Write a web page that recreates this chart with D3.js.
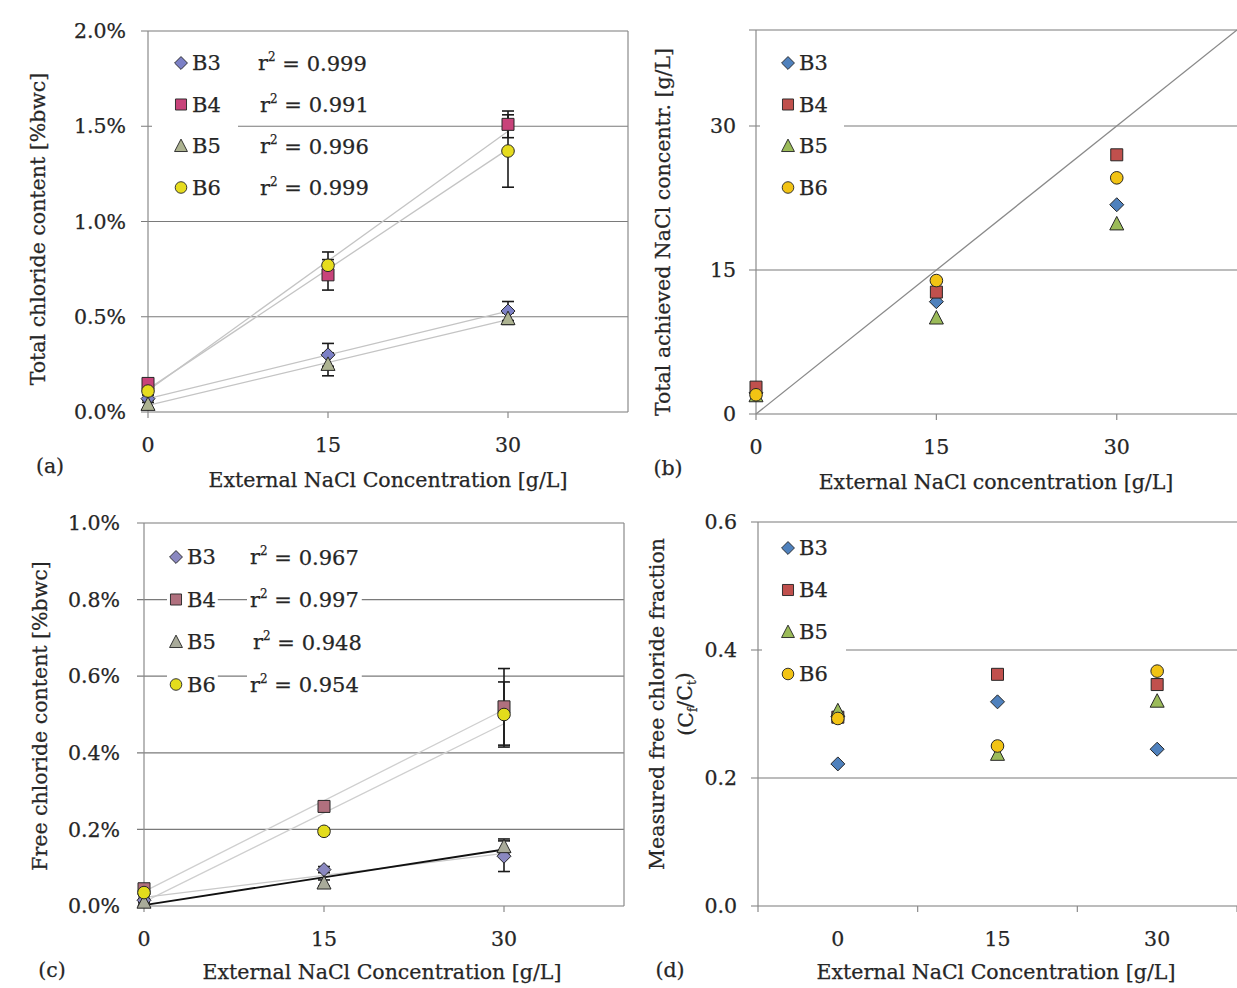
<!DOCTYPE html>
<html><head><meta charset="utf-8">
<script src="https://cdn.jsdelivr.net/npm/d3@7"></script>
<style>
html,body{margin:0;padding:0;background:#fff;}
svg text{font-family:"DejaVu Serif","Liberation Serif",serif;fill:#262626;stroke:#262626;stroke-width:0.25px;}
</style></head>
<body>
<svg id="chart" width="1237" height="988"></svg>
<script>
// ---------- data ----------
const seriesNames = ["B3", "B4", "B5", "B6"];
const seriesShapes = ["diamond", "square", "triangle", "circle"];
const concentrations = [0, 15, 30];
const concLabels = ["0", "15", "30"];

// (a) total chloride content [%bwc]
const totalB3 = [0.07, 0.30, 0.53];
const totalB4 = [0.15, 0.72, 1.51];
const totalB5 = [0.04, 0.25, 0.49];
const totalB6 = [0.11, 0.77, 1.37];
const totalErrB3 = [0.02, 0.06, 0.05];
const totalErrB4 = [0.02, 0.08, 0.07];
const totalErrB5 = [0.02, 0.06, 0.03];
const totalErrB6 = [0.02, 0.07, 0.19];
const totalR2 = ["0.999", "0.991", "0.996", "0.999"];
const totalTicks = [0, 0.5, 1.0, 1.5, 2.0];

// (b) total achieved NaCl concentration [g/L]
const achievedB3 = [2.2, 11.7, 21.8];
const achievedB4 = [2.8, 12.7, 27.0];
const achievedB5 = [1.9, 10.0, 19.8];
const achievedB6 = [2.0, 13.9, 24.6];
const achievedTicks = [0, 15, 30];
const identityLine = [0, 40];

// (c) free chloride content [%bwc]
const freeB3 = [0.015, 0.095, 0.13];
const freeB4 = [0.045, 0.26, 0.52];
const freeB5 = [0.01, 0.06, 0.155];
const freeB6 = [0.035, 0.195, 0.50];
const freeErrB3 = [0.005, 0.008, 0.04];
const freeErrB4 = [0.008, 0.008, 0.10];
const freeErrB5 = [0.005, 0.008, 0.02];
const freeErrB6 = [0.008, 0.008, 0.085];
const freeR2 = ["0.967", "0.997", "0.948", "0.954"];
const freeTicks = [0, 0.2, 0.4, 0.6, 0.8, 1.0];

// (d) measured free chloride fraction Cf/Ct
const fracB3 = [0.222, 0.319, 0.245];
const fracB4 = [0.295, 0.362, 0.346];
const fracB5 = [0.305, 0.237, 0.320];
const fracB6 = [0.293, 0.250, 0.367];
const fracTicks = [0, 0.2, 0.4, 0.6];

// ---------- styles ----------
const colorsA = ["#7c80c6", "#c8437a", "#adb391", "#e6dc1e"];
const colorsB = ["#4f81bd", "#c0504d", "#9bbb59", "#f2c314"];
const colorsC = ["#8a88c0", "#b0707e", "#a9ab9a", "#e3dc1c"];
const colorsD = ["#4f81bd", "#c0504d", "#9bbb59", "#f2c314"];

const svg = d3.select("#chart");
const FS = 20.5;

function markerPath(shape) {
  if (shape === "diamond") return "M0,-7L7,0L0,7L-7,0Z";
  if (shape === "square") return "M-6,-6H6V6H-6Z";
  if (shape === "triangle") return "M0,-7.5L7,6L-7,6Z";
  return d3.symbol(d3.symbolCircle, Math.PI * 6.3 * 6.3)();
}

function linFit(xs, ys) {
  const mx = d3.mean(xs), my = d3.mean(ys);
  const sxy = d3.sum(xs, (x, i) => (x - mx) * (ys[i] - my));
  const sxx = d3.sum(xs, x => (x - mx) * (x - mx));
  const b = sxy / sxx;
  return [my - b * mx, b];
}

function frame(g, x, y, yTicks, fmt, opts) {
  const [x0, x1] = x.range();
  const [yb, yt] = y.range();
  g.selectAll(".grid").data(yTicks).join("line")
    .attr("x1", x0 - 7).attr("x2", x1)
    .attr("y1", d => y(d)).attr("y2", d => y(d))
    .attr("stroke", "#7a7a7a").attr("stroke-width", 1.2);
  g.append("line").attr("x1", x0).attr("x2", x0).attr("y1", yt).attr("y2", yb)
    .attr("stroke", "#8a8a8a").attr("stroke-width", 1.2);
  if (opts.rightBorder)
    g.append("line").attr("x1", x1).attr("x2", x1).attr("y1", yt).attr("y2", yb)
      .attr("stroke", "#8a8a8a").attr("stroke-width", 1.2);
  g.selectAll(".ylab").data(yTicks).join("text")
    .attr("x", x0 - opts.yLabelGap).attr("y", d => y(d)).attr("dy", "0.35em")
    .attr("text-anchor", "end").attr("font-size", FS).text(fmt);
}

function xAxisLinear(g, x, y, ticks) {
  const yb = y.range()[0];
  g.selectAll(".xt").data(ticks).join("line")
    .attr("x1", d => x(d)).attr("x2", d => x(d)).attr("y1", yb).attr("y2", yb + 6)
    .attr("stroke", "#8a8a8a").attr("stroke-width", 1.2);
  g.selectAll(".xl").data(ticks).join("text")
    .attr("x", d => x(d)).attr("y", yb + 40).attr("text-anchor", "middle")
    .attr("font-size", FS).text(d => d);
}

function drawPoints(g, x, y, xs, ys, shape, color) {
  g.append("g").selectAll("path").data(ys).join("path")
    .attr("d", markerPath(shape))
    .attr("transform", (d, i) => `translate(${x(xs[i])},${y(d)})`)
    .attr("fill", color).attr("stroke", "#262626").attr("stroke-width", 1);
}

function drawErr(g, x, y, xs, ys, es) {
  const eg = g.append("g").attr("stroke", "#1a1a1a").attr("stroke-width", 1.6);
  ys.forEach((v, i) => {
    const cx = x(xs[i]);
    eg.append("line").attr("x1", cx).attr("x2", cx).attr("y1", y(v - es[i])).attr("y2", y(v + es[i]));
    [v - es[i], v + es[i]].forEach(e =>
      eg.append("line").attr("x1", cx - 6).attr("x2", cx + 6).attr("y1", y(e)).attr("y2", y(e)));
  });
}

function drawFit(g, x, y, xs, ys, color, width) {
  const [a, b] = linFit(xs, ys);
  const x0 = d3.min(xs), x1 = d3.max(xs);
  g.append("line").attr("x1", x(x0)).attr("y1", y(a + b * x0))
    .attr("x2", x(x1)).attr("y2", y(a + b * x1))
    .attr("stroke", color).attr("stroke-width", width);
}

function legend(g, x0, y0, dy, colors, r2, r2x, textX, perItemBg) {
  seriesNames.forEach((n, i) => {
    const yy = y0 + i * dy;
    const row = g.append("g");
    const t = row.append("text").attr("x", textX).attr("y", yy).attr("dy", "0.35em")
      .attr("font-size", FS + 0.5).text(n);
    let rt = null;
    if (r2) {
      rt = row.append("text").attr("x", r2x[i]).attr("y", yy).attr("dy", "0.35em")
        .attr("font-size", FS + 0.5);
      rt.append("tspan").text("r");
      rt.append("tspan").attr("font-size", 12).attr("dy", "-0.75em").text("2");
      rt.append("tspan").attr("dy", "0.45em").text(" = " + r2[i]);
    }
    if (perItemBg) {
      const bb = t.node().getBBox();
      row.insert("rect", "text").attr("x", x0 - 9).attr("y", bb.y + 2)
        .attr("width", bb.x + bb.width - x0 + 11).attr("height", bb.height - 2).attr("fill", "#fff");
      if (rt) {
        const rb = rt.node().getBBox();
        row.insert("rect", "text").attr("x", rb.x - 3).attr("y", rb.y + 2)
          .attr("width", rb.width + 6).attr("height", rb.height - 2).attr("fill", "#fff");
      }
    }
    row.append("path").attr("d", markerPath(seriesShapes[i]))
      .attr("transform", `translate(${x0},${yy}) scale(0.92)`)
      .attr("fill", colors[i]).attr("stroke", "#262626").attr("stroke-width", 1);
  });
}

const pctFmt = d => d.toFixed(1) + "%";

// ================= (a) =================
{
  const g = svg.append("g");
  const x = d3.scaleLinear().domain([0, 40]).range([148, 628]);
  const y = d3.scaleLinear().domain([0, 2.0]).range([412, 31]);
  frame(g, x, y, totalTicks, pctFmt, { rightBorder: true, yLabelGap: 22 });
  xAxisLinear(g, x, y, [0, 15, 30]);
  const vals = [totalB3, totalB4, totalB5, totalB6];
  const errs = [totalErrB3, totalErrB4, totalErrB5, totalErrB6];
  vals.forEach(v => drawFit(g, x, y, concentrations, v, "#c4c4c4", 1.3));
  vals.forEach((v, i) => drawErr(g, x, y, concentrations, v, errs[i]));
  vals.forEach((v, i) => drawPoints(g, x, y, concentrations, v, seriesShapes[i], colorsA[i]));
  g.append("rect").attr("x", 152).attr("y", 46).attr("width", 86).attr("height", 160).attr("fill", "#fff");
  legend(g, 181, 63, 41.5, colorsA, totalR2, [258, 260, 260, 260], 192, false);
  g.append("text").attr("x", 388).attr("y", 487).attr("text-anchor", "middle").attr("font-size", FS)
    .text("External NaCl Concentration [g/L]");
  g.append("text").attr("transform", "translate(45,229) rotate(-90)").attr("text-anchor", "middle")
    .attr("font-size", FS).text("Total chloride content [%bwc]");
  g.append("text").attr("x", 50).attr("y", 473).attr("text-anchor", "middle").attr("font-size", FS).text("(a)");
}

// ================= (b) =================
{
  const g = svg.append("g");
  const x = d3.scaleLinear().domain([0, 40]).range([756, 1237]);
  const y = d3.scaleLinear().domain([0, 40]).range([414, 30]);
  frame(g, x, y, [0, 15, 30, 40], d => d === 40 ? "" : d, { rightBorder: false, yLabelGap: 20 });
  xAxisLinear(g, x, y, [0, 15, 30]);
  g.append("line").attr("x1", x(identityLine[0])).attr("y1", y(identityLine[0]))
    .attr("x2", x(identityLine[1])).attr("y2", y(identityLine[1]))
    .attr("stroke", "#8a8a8a").attr("stroke-width", 1.3);
  const vals = [achievedB3, achievedB4, achievedB5, achievedB6];
  vals.forEach((v, i) => drawPoints(g, x, y, concentrations, v, seriesShapes[i], colorsB[i]));
  g.append("rect").attr("x", 760).attr("y", 46).attr("width", 84).attr("height", 160).attr("fill", "#fff");
  legend(g, 788, 63, 41.5, colorsB, null, null, 799, false);
  g.append("text").attr("x", 996).attr("y", 489).attr("text-anchor", "middle").attr("font-size", FS)
    .text("External NaCl concentration [g/L]");
  g.append("text").attr("transform", "translate(670,232) rotate(-90)").attr("text-anchor", "middle")
    .attr("font-size", FS).text("Total achieved NaCl concentr. [g/L]");
  g.append("text").attr("x", 668).attr("y", 475).attr("text-anchor", "middle").attr("font-size", FS).text("(b)");
}

// ================= (c) =================
{
  const g = svg.append("g");
  const x = d3.scaleLinear().domain([0, 40]).range([144, 624]);
  const y = d3.scaleLinear().domain([0, 1.0]).range([906, 523]);
  frame(g, x, y, freeTicks, pctFmt, { rightBorder: true, yLabelGap: 24 });
  xAxisLinear(g, x, y, [0, 15, 30]);
  const vals = [freeB3, freeB4, freeB5, freeB6];
  const errs = [freeErrB3, freeErrB4, freeErrB5, freeErrB6];
  drawFit(g, x, y, concentrations, freeB4, "#cfcfcf", 1.3);
  drawFit(g, x, y, concentrations, freeB6, "#cfcfcf", 1.3);
  drawFit(g, x, y, concentrations, freeB3, "#c8c8c8", 1.3);
  drawFit(g, x, y, concentrations, freeB5, "#111111", 1.8);
  vals.forEach((v, i) => drawErr(g, x, y, concentrations, v, errs[i]));
  vals.forEach((v, i) => drawPoints(g, x, y, concentrations, v, seriesShapes[i], colorsC[i]));
  legend(g, 176, 557, 42.5, colorsC, freeR2, [250, 250, 253, 250], 187, true);
  g.append("text").attr("x", 382).attr("y", 979).attr("text-anchor", "middle").attr("font-size", FS)
    .text("External NaCl Concentration [g/L]");
  g.append("text").attr("transform", "translate(47,716) rotate(-90)").attr("text-anchor", "middle")
    .attr("font-size", FS).text("Free chloride content [%bwc]");
  g.append("text").attr("x", 52).attr("y", 977).attr("text-anchor", "middle").attr("font-size", FS).text("(c)");
}

// ================= (d) =================
{
  const g = svg.append("g");
  const x = d3.scaleBand().domain(concLabels).range([758, 1237]);
  const xc = d => x(d) + x.bandwidth() / 2;
  const y = d3.scaleLinear().domain([0, 0.6]).range([906, 522]);
  frame(g, d3.scaleLinear().range([758, 1237]), y, fracTicks, d => d.toFixed(1), { rightBorder: false, yLabelGap: 21 });
  const bounds = concLabels.map(c => x(c)).concat([x.range()[1]]);
  g.selectAll(".xt").data(bounds).join("line")
    .attr("x1", d => d).attr("x2", d => d).attr("y1", 906).attr("y2", 912)
    .attr("stroke", "#8a8a8a").attr("stroke-width", 1.2);
  g.selectAll(".xl").data(concLabels).join("text")
    .attr("x", d => xc(d)).attr("y", 946).attr("text-anchor", "middle").attr("font-size", FS).text(d => d);
  const vals = [fracB3, fracB4, fracB5, fracB6];
  vals.forEach((v, i) => {
    g.append("g").selectAll("path").data(v).join("path")
      .attr("d", markerPath(seriesShapes[i]))
      .attr("transform", (d, j) => `translate(${xc(concLabels[j])},${y(d)})`)
      .attr("fill", colorsD[i]).attr("stroke", "#262626").attr("stroke-width", 1);
  });
  g.append("rect").attr("x", 762).attr("y", 530).attr("width", 84).attr("height", 162).attr("fill", "#fff");
  legend(g, 788, 548, 42, colorsD, null, null, 799, false);
  g.append("text").attr("x", 996).attr("y", 979).attr("text-anchor", "middle").attr("font-size", FS)
    .text("External NaCl Concentration [g/L]");
  g.append("text").attr("transform", "translate(664,704) rotate(-90)").attr("text-anchor", "middle")
    .attr("font-size", FS).text("Measured free chloride fraction");
  const t2 = g.append("text").attr("transform", "translate(693,704) rotate(-90)").attr("text-anchor", "middle")
    .attr("font-size", FS);
  t2.append("tspan").text("(C");
  t2.append("tspan").attr("font-size", 12).attr("dy", "0.35em").text("f");
  t2.append("tspan").attr("dy", "-0.25em").text("/C");
  t2.append("tspan").attr("font-size", 12).attr("dy", "0.35em").text("t");
  t2.append("tspan").attr("dy", "-0.25em").text(")");
  g.append("text").attr("x", 670).attr("y", 977).attr("text-anchor", "middle").attr("font-size", FS).text("(d)");
}
</script>
</body></html>
